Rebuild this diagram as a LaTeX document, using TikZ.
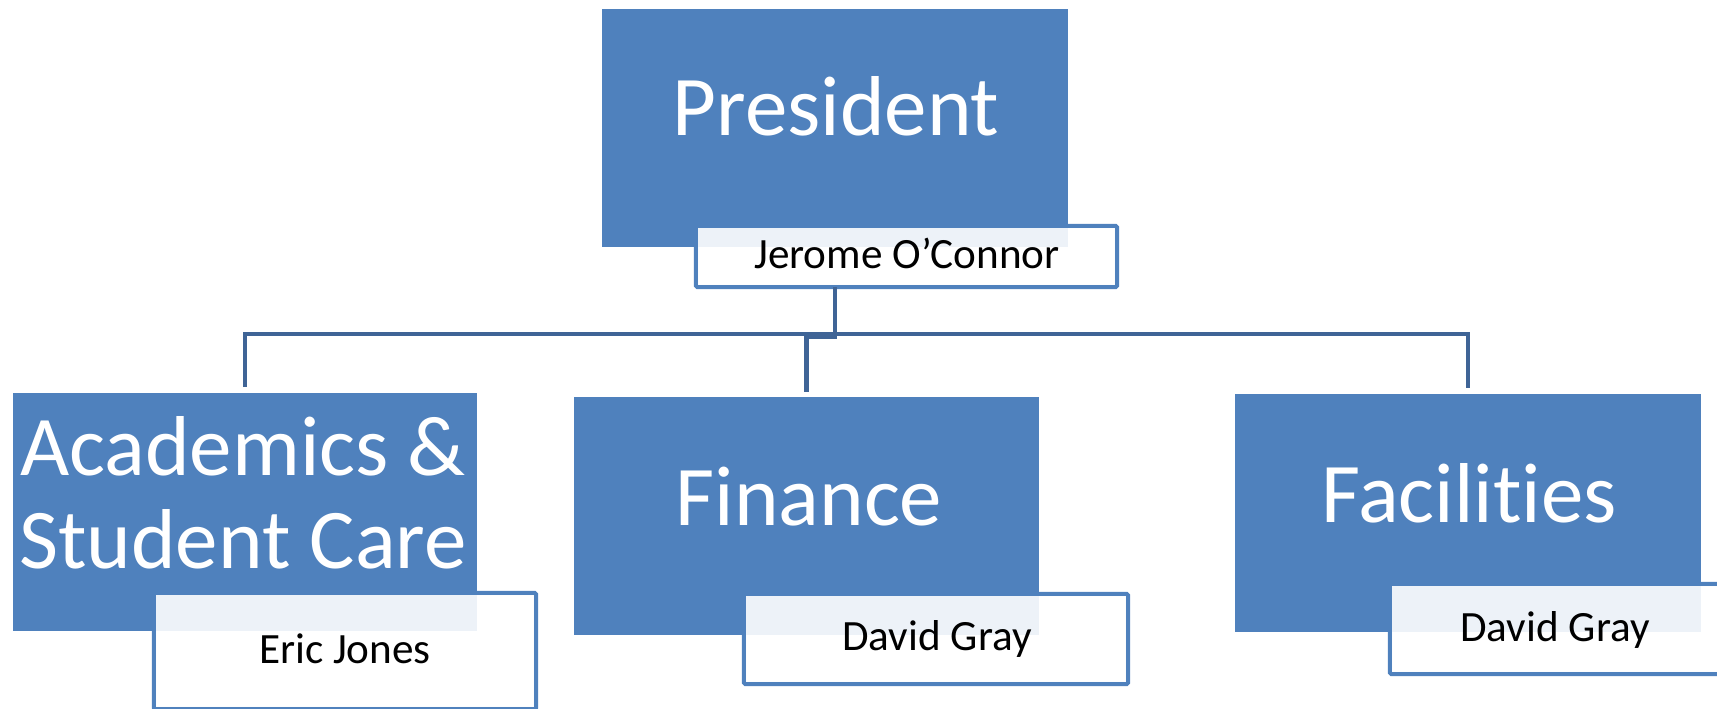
\documentclass[tikz,border=0pt]{standalone}
\usepackage{fontspec}
\setmainfont{Carlito}[Ligatures=NoCommon]
\definecolor{unitblue}{RGB}{79,129,189}
\definecolor{linkblue}{RGB}{63,100,150}
\tikzset{
 unit/.style={rectangle, fill=unitblue, inner sep=0pt, outer sep=0pt, anchor=north west, minimum height=119pt},
 namebox/.style={rectangle, draw=unitblue, line width=2.2pt, rounded corners=0.8pt, inner sep=0pt, outer sep=0pt, anchor=north west},
 veil/.style={fill=white, fill opacity=0.9},
 head/.style={anchor=base, text=white, font=\fontsize{42.5}{46.5}\selectfont},
 who/.style={anchor=base, text=black, font=\fontsize{21.6}{24}\selectfont},
 link/.style={draw=linkblue, line width=2.3pt}
}

\begin{document}
\begin{tikzpicture}[x=0.5pt,y=-0.5pt]
 \useasboundingbox (0,0) rectangle (1717,708);
 \clip (0,0) rectangle (1717,708);
 % name boxes (outline only)
 \node[namebox, minimum width=210.5pt, minimum height=30.5pt] (jerome) at (696,226) {};
 \node[namebox, minimum width=191pt, minimum height=58pt] (eric) at (154,593) {};
 \node[namebox, minimum width=192pt, minimum height=45pt] (fingray) at (744,594) {};
 \node[namebox, minimum width=165pt, minimum height=45pt] (facgray) at (1390,584) {};
 % units
 \node[unit, minimum width=233pt] (pres) at (602,9) {};
 \node[unit, minimum width=232pt] (acad) at (13,393) {};
 \node[unit, minimum width=232.5pt] (fin) at (574,397) {};
 \node[unit, minimum width=233pt] (fac) at (1235,394) {};
 % light part of the name boxes
 \foreach \n in {jerome,eric,fingray,facgray}
  \fill[veil] ([shift={(1.1pt,-1.1pt)}]\n.north west) rectangle ([shift={(-1.1pt,1.1pt)}]\n.south east);
 % titles
 \node[head] (pres-t) at (836,135) {President};
 \node[head, align=center] (acad-t) at (243,568) {Academics \&\\Student Care};
 \node[head] (fin-t) at (809,525) {Finance};
 \node[head] (fac-t) at (1469,522) {Facilities};
 % names
 \node[who] (jerome-t) at (907,268) {Jerome O’Connor};
 \node[who] (eric-t) at (345,663) {Eric Jones};
 \node[who] (fingray-t) at (937,650) {David Gray};
 \node[who] (facgray-t) at (1555,641) {David Gray};
 % connectors
 \coordinate (bus) at (835,334);
 \coordinate (jog) at (835,337);
 \draw[link] ([yshift=3pt]acad.north) |- (bus) -| ([yshift=3pt]fac.north);
 \draw[link] (pres.south |- jerome.south) -- (jog) -| ([yshift=2.5pt]fin.north);
\end{tikzpicture}
\end{document}
